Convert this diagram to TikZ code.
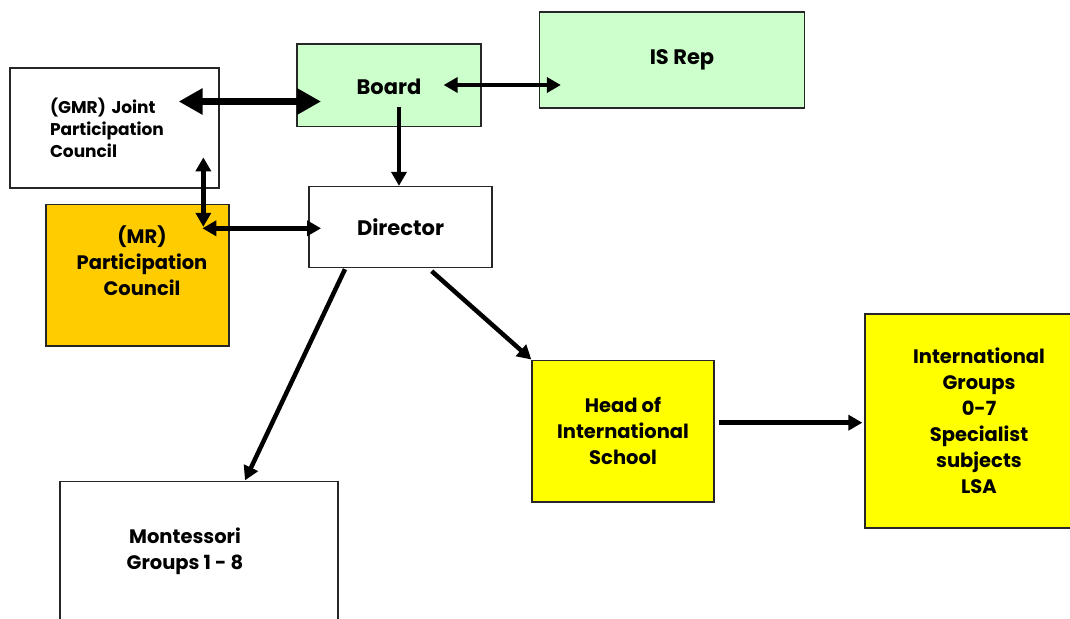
\documentclass[tikz,border=0pt]{standalone}
\usepackage{fontspec}
\setmainfont{Poppins}
\usetikzlibrary{arrows.meta}
\definecolor{boardgreen}{HTML}{CCFFCC}
\definecolor{mrorange}{HTML}{FFCC00}
\definecolor{intyellow}{HTML}{FFFF00}
\tikzset{>={Triangle[length=14pt,width=15pt]}}
\tikzset{
	% boxes
	orgbox/.style={draw=black!85,line width=1.3pt,inner sep=0pt,align=center},
	greenbox/.style={orgbox,fill=boardgreen},
	orangebox/.style={orgbox,fill=mrorange},
	yellowbox/.style={orgbox,fill=intyellow},
	% texts
	bigtxt/.style={font=\bfseries\fontsize{21}{26}\selectfont},
	midtxt/.style={font=\bfseries\fontsize{19.5}{26}\selectfont},
	smalltxt/.style={font=\bfseries\fontsize{17}{22}\selectfont},
	% connectors
	link/.style={line width=4.5pt,<->},
	linkto/.style={line width=4.5pt,->},
	biglink/.style={line width=6.5pt,{Triangle[length=24pt,width=25pt]}-{Triangle[length=24pt,width=25pt]}},
}

\begin{document}
\begin{tikzpicture}[x=1pt,y=-1pt]
\useasboundingbox[fill=white] (0,0) rectangle (1070,618);
% the boxes
\node[orgbox,smalltxt,minimum width=209pt,minimum height=120pt,text width=129pt,align=left] (gmr) at (114.5,128) {(GMR) Joint\\Participation\\Council};
\node[greenbox,bigtxt,minimum width=184pt,minimum height=82.7pt,text height=18pt] (board) at (389,85.3) {Board};
\node[greenbox,minimum width=265pt,minimum height=96pt,
  label={[bigtxt,shift={(10pt,0pt)}]center:IS Rep}] (isrep) at (672,60) {};
\node[orgbox,bigtxt,minimum width=183pt,minimum height=81pt,text height=18pt] (director) at (400.5,227) {Director};
\node[orangebox,minimum width=183pt,minimum height=141.7pt,
  label={[midtxt,align=center,shift={(4.5pt,14pt)}]center:(MR)\\Participation\\Council}] (mr) at (137.5,275) {};
\node[yellowbox,midtxt,minimum width=182pt,minimum height=141.7pt] (head) at (623,431) {Head of\\International\\School};
\node[yellowbox,midtxt,minimum width=228pt,minimum height=214pt] (intl) at (979,421) {International\\Groups\\0-7\\Specialist\\subjects\\LSA};
\node[orgbox,minimum width=278pt,minimum height=160pt,
  label={[midtxt,align=center,shift={(-14pt,10.7pt)}]center:Montessori\\Groups 1 - 8}] (mont) at (199,561.7) {};
% the connectors
\draw[biglink] ([shift={(-41,-26.5)}]gmr.east) -- ([shift={(24.7,16.2)}]board.west);
\draw[link] ([shift={(-38,-0.3)}]board.east) -- ([shift={(22,25)}]isrep.west);
\draw[linkto] ([shift={(10,-20.7)}]board.south) -- ([shift={(-1.5,0)}]director.north);
\draw[link] ([shift={(-16.3,-31.3)}]gmr.south east) -- ([shift={(-26.3,23.3)}]mr.north east);
\draw[link] ([shift={(-27.3,-46.7)}]mr.east) -- ([shift={(12.7,1.3)}]director.west);
\draw[linkto] ([shift={(-55.5,1)}]director.south) -- ([shift={(46,-0.7)}]mont.north);
\draw[linkto] ([shift={(31.2,3)}]director.south) -- (head.north west);
\draw[linkto] ([shift={(4,-8.3)}]head.east) -- ([shift={(-2,1.7)}]intl.west);
\end{tikzpicture}
\end{document}
